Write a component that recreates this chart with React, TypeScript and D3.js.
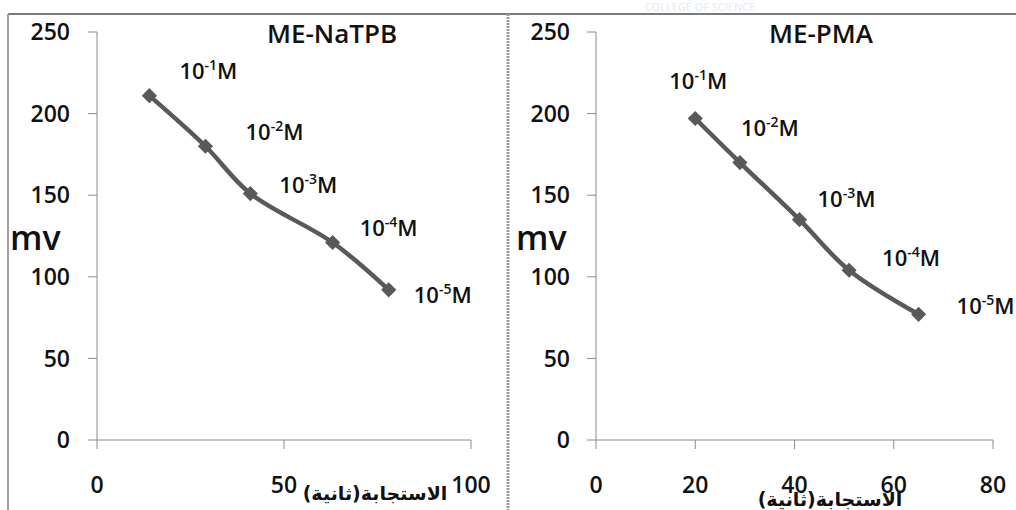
import { useEffect, useRef } from "react";
import * as d3 from "d3";

// concentration exponents shown next to each point
const concExp = ["-1", "-2", "-3", "-4", "-5"];

// ME-NaTPB: response time (s) vs potential (mV)
const natpbTime = [14, 29, 41, 63, 78];
const natpbMv = [211, 180, 151, 121, 92];
const natpbXTicks = [0, 50, 100];

// ME-PMA
const pmaTime = [20, 29, 41, 51, 65];
const pmaMv = [197, 170, 135, 104, 77];
const pmaXTicks = [0, 20, 40, 60, 80];

const yTicks = [0, 50, 100, 150, 200, 250];
const xTitle = "الاستجابة(ثانية)";

const W = 1016;
const H = 510;
const LINE = "#595959";
const AXIS = "#8c8c8c";
const FONT = "'Open Sans', 'Liberation Sans', sans-serif";

interface PanelCfg {
  title: string;
  time: number[];
  mv: number[];
  xTicks: number[];
  xMax: number;
  xRange: [number, number];
  yLabelX: number;
  mvX: number;
  titleX: number;
  // pixel offsets of the concentration labels from their points
  labelOff: [number, number][];
  xTitlePos: [number, number];
}

const panels: PanelCfg[] = [
  {
    title: "ME-NaTPB",
    time: natpbTime,
    mv: natpbMv,
    xTicks: natpbXTicks,
    xMax: 100,
    xRange: [97, 471],
    yLabelX: 70,
    mvX: 10,
    titleX: 332,
    labelOff: [[59, -25], [69, -14], [58, -9], [56, -15], [54, 5]],
    xTitlePos: [375, 500],
  },
  {
    title: "ME-PMA",
    time: pmaTime,
    mv: pmaMv,
    xTicks: pmaXTicks,
    xMax: 80,
    xRange: [596, 993],
    yLabelX: 570,
    mvX: 516,
    titleX: 821,
    labelOff: [[3, -37], [30, -35], [47, -21], [62, -12], [67, -8]],
    xTitlePos: [830, 506],
  },
];

export default function App() {
  const ref = useRef<SVGSVGElement>(null);

  useEffect(() => {
    if (!ref.current) return;
    const svg = d3.select(ref.current);
    svg.selectAll("*").remove();

    svg.append("rect").attr("width", W).attr("height", H).attr("fill", "#fff");

    // faint watermark from the source page
    svg
      .append("text")
      .attr("x", 700)
      .attr("y", 11)
      .attr("text-anchor", "middle")
      .attr("font-family", FONT)
      .attr("font-size", 11)
      .attr("fill", "#e3eaf5")
      .text("COLLEGE OF SCIENCE");

    // chart frames
    svg.append("line").attr("x1", 8).attr("x2", W).attr("y1", 14).attr("y2", 14)
      .attr("stroke", "#7a7a7a").attr("stroke-width", 2);
    svg.append("line").attr("x1", 8).attr("x2", 8).attr("y1", 14).attr("y2", H)
      .attr("stroke", "#a0a0a0").attr("stroke-width", 2);
    svg.append("line").attr("x1", 508).attr("x2", 508).attr("y1", 14).attr("y2", H)
      .attr("stroke", "#9a9a9a").attr("stroke-width", 3).attr("stroke-dasharray", "2,1");

    const y = d3.scaleLinear().domain([0, 250]).range([440, 32]);

    panels.forEach((p) => {
      const x = d3.scaleLinear().domain([0, p.xMax]).range(p.xRange);
      const g = svg.append("g");
      const x0 = p.xRange[0];

      // y axis
      g.append("line").attr("x1", x0).attr("x2", x0).attr("y1", y(250)).attr("y2", y(0))
        .attr("stroke", AXIS);
      yTicks.forEach((t) => {
        g.append("line").attr("x1", x0 - 9).attr("x2", x0).attr("y1", y(t)).attr("y2", y(t))
          .attr("stroke", AXIS);
        g.append("text")
          .attr("x", p.yLabelX)
          .attr("y", y(t))
          .attr("dy", "0.36em")
          .attr("text-anchor", "end")
          .attr("font-family", FONT)
          .attr("font-weight", 600)
          .attr("font-size", 23)
          .attr("fill", "#111")
          .text(t);
      });

      // x axis
      g.append("line").attr("x1", x0).attr("x2", x(p.xMax)).attr("y1", y(0)).attr("y2", y(0))
        .attr("stroke", AXIS);
      p.xTicks.forEach((t) => {
        g.append("line").attr("x1", x(t)).attr("x2", x(t)).attr("y1", y(0)).attr("y2", y(0) + 9)
          .attr("stroke", AXIS);
        g.append("text")
          .attr("x", x(t))
          .attr("y", 485)
          .attr("dy", "0.36em")
          .attr("text-anchor", "middle")
          .attr("font-family", FONT)
          .attr("font-weight", 600)
          .attr("font-size", 23)
          .attr("fill", "#111")
          .text(t);
      });

      // axis titles
      g.append("text")
        .attr("x", p.mvX)
        .attr("y", 250)
        .attr("font-family", FONT)
        .attr("font-weight", 600)
        .attr("font-size", 34)
        .attr("fill", "#111")
        .text("mv");

      g.append("text")
        .attr("x", p.xTitlePos[0])
        .attr("y", p.xTitlePos[1])
        .attr("text-anchor", "middle")
        .attr("direction", "rtl")
        .attr("font-family", "'DejaVu Sans', sans-serif")
        .attr("font-weight", "bold")
        .attr("font-size", 19)
        .attr("fill", "#111")
        .text(xTitle);

      g.append("text")
        .attr("x", p.titleX)
        .attr("y", 34)
        .attr("dy", "0.36em")
        .attr("text-anchor", "middle")
        .attr("font-family", FONT)
        .attr("font-weight", 600)
        .attr("font-size", 26)
        .attr("fill", "#111")
        .text(p.title);

      // series
      const pts = p.time.map((t, i) => [x(t), y(p.mv[i])] as [number, number]);
      const line = d3.line().curve(d3.curveCatmullRom.alpha(0.5));
      g.append("path")
        .attr("d", line(pts))
        .attr("fill", "none")
        .attr("stroke", LINE)
        .attr("stroke-width", 4.5)
        .attr("stroke-linejoin", "round");

      const sym = d3.symbol(d3.symbolSquare, 115);
      g.selectAll("path.m")
        .data(pts)
        .join("path")
        .attr("class", "m")
        .attr("d", sym())
        .attr("transform", (d) => `translate(${d[0]},${d[1]}) rotate(45)`)
        .attr("fill", LINE);

      // concentration labels
      pts.forEach((d, i) => {
        const t = g
          .append("text")
          .attr("x", d[0] + p.labelOff[i][0])
          .attr("y", d[1] + p.labelOff[i][1] + 8)
          .attr("text-anchor", "middle")
          .attr("font-family", FONT)
          .attr("font-weight", 600)
          .attr("font-size", 22)
          .attr("fill", "#111");
        t.append("tspan").text("10");
        t.append("tspan").attr("font-size", 14).attr("dy", -9).text(concExp[i]);
        t.append("tspan").attr("dy", 9).text("M");
      });
    });
  }, []);

  return (
    <svg
      ref={ref}
      width={W}
      height={H}
      style={{ position: "absolute", left: 0, top: 0, display: "block" }}
    />
  );
}
